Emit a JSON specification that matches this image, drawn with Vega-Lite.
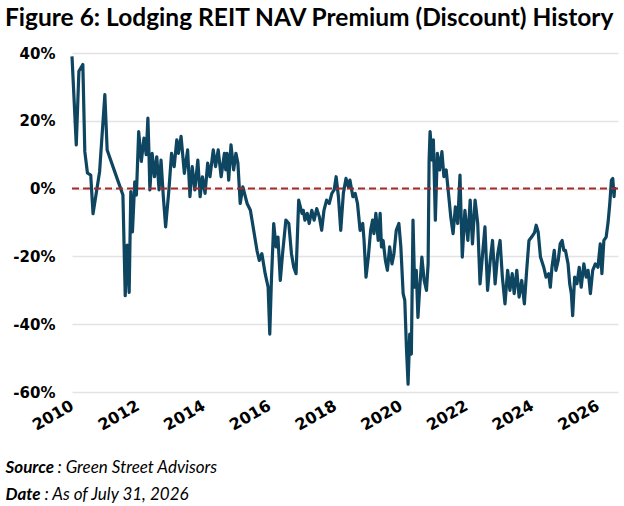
{
  "$schema": "https://vega.github.io/schema/vega-lite/v6.json",
  "width": 546,
  "height": 339,
  "autosize": {"type": "none"},
  "padding": {"left": 72, "top": 53, "right": 6, "bottom": 114},
  "background": "white",
  "config": {"view": {"stroke": null}},
  "title": {
    "text": "Figure 6: Lodging REIT NAV Premium (Discount) History",
    "anchor": "start",
    "frame": "group",
    "dx": -67,
    "font": "Lato",
    "fontSize": 24.5,
    "fontWeight": "bold",
    "color": "#000000",
    "offset": 15
  },
  "resolve": {"axis": {"x": "independent"}},
  "layer": [
    {
      "data": {"values": [
        {"t": 2010.00, "v": 39}, {"t": 2010.13, "v": 12.9}, {"t": 2010.21, "v": 34.6}, {"t": 2010.33, "v": 36.6},
        {"t": 2010.39, "v": 10.9}, {"t": 2010.47, "v": 4.6}, {"t": 2010.57, "v": 4}, {"t": 2010.64, "v": -7.4},
        {"t": 2010.84, "v": 5}, {"t": 2011.00, "v": 27.7}, {"t": 2011.07, "v": 11.4}, {"t": 2011.30, "v": 5},
        {"t": 2011.55, "v": -1.9}, {"t": 2011.62, "v": -31.6}, {"t": 2011.68, "v": -16.7}, {"t": 2011.74, "v": -30.6},
        {"t": 2011.79, "v": -0.9}, {"t": 2011.84, "v": -12.8}, {"t": 2011.91, "v": 2}, {"t": 2011.96, "v": -1.9},
        {"t": 2012.03, "v": 16.8}, {"t": 2012.11, "v": 8}, {"t": 2012.19, "v": 14.9}, {"t": 2012.26, "v": 10},
        {"t": 2012.31, "v": 20.8}, {"t": 2012.34, "v": 11.4}, {"t": 2012.37, "v": -0.4}, {"t": 2012.44, "v": 10.4},
        {"t": 2012.51, "v": 3.5}, {"t": 2012.58, "v": 9.4}, {"t": 2012.65, "v": -0.4}, {"t": 2012.71, "v": 8.4},
        {"t": 2012.78, "v": -2.4}, {"t": 2012.85, "v": -11.3}, {"t": 2012.95, "v": -0.4}, {"t": 2013.03, "v": 10.4},
        {"t": 2013.11, "v": 6.5}, {"t": 2013.19, "v": 14.4}, {"t": 2013.24, "v": 10.4}, {"t": 2013.32, "v": 15.4},
        {"t": 2013.42, "v": 4.5}, {"t": 2013.52, "v": 11.4}, {"t": 2013.59, "v": -2.4}, {"t": 2013.66, "v": 6.5},
        {"t": 2013.74, "v": -0.4}, {"t": 2013.83, "v": 8.4}, {"t": 2013.90, "v": -2.4}, {"t": 2013.97, "v": 3.5},
        {"t": 2014.05, "v": -1.4}, {"t": 2014.13, "v": 7.5}, {"t": 2014.20, "v": 3.5}, {"t": 2014.30, "v": 11.4},
        {"t": 2014.37, "v": 6.5}, {"t": 2014.45, "v": 11.4}, {"t": 2014.54, "v": 3.5}, {"t": 2014.64, "v": 10.4},
        {"t": 2014.68, "v": 5.5}, {"t": 2014.72, "v": 10.4}, {"t": 2014.77, "v": 2.5}, {"t": 2014.84, "v": 12.9},
        {"t": 2014.92, "v": 5.5}, {"t": 2014.99, "v": 10.4}, {"t": 2015.05, "v": 7.5}, {"t": 2015.12, "v": -4.4},
        {"t": 2015.20, "v": 0.5}, {"t": 2015.33, "v": -4.4}, {"t": 2015.43, "v": -6.4}, {"t": 2015.53, "v": -12.3},
        {"t": 2015.63, "v": -18.2}, {"t": 2015.70, "v": -21.2}, {"t": 2015.78, "v": -19.2}, {"t": 2015.88, "v": -25.1},
        {"t": 2015.97, "v": -29.1}, {"t": 2016.02, "v": -42.9}, {"t": 2016.07, "v": -27.1}, {"t": 2016.14, "v": -10.3},
        {"t": 2016.21, "v": -17.2}, {"t": 2016.27, "v": -14.3}, {"t": 2016.34, "v": -27.1}, {"t": 2016.41, "v": -19.2},
        {"t": 2016.51, "v": -9.3}, {"t": 2016.60, "v": -10.3}, {"t": 2016.68, "v": -19.2}, {"t": 2016.75, "v": -23.2},
        {"t": 2016.82, "v": -25.1}, {"t": 2016.90, "v": -3.4}, {"t": 2017.00, "v": -7.3}, {"t": 2017.04, "v": -6.4},
        {"t": 2017.09, "v": -9.3}, {"t": 2017.16, "v": -7.3}, {"t": 2017.22, "v": -10.3}, {"t": 2017.30, "v": -6.4},
        {"t": 2017.37, "v": -9.3}, {"t": 2017.45, "v": -5.9}, {"t": 2017.53, "v": -8.4}, {"t": 2017.60, "v": -12.3},
        {"t": 2017.67, "v": -6.4}, {"t": 2017.75, "v": -3.4}, {"t": 2017.83, "v": -4.4}, {"t": 2017.91, "v": -1.4},
        {"t": 2017.98, "v": -0.4}, {"t": 2018.04, "v": 3.5}, {"t": 2018.11, "v": -2.4}, {"t": 2018.18, "v": -12.3},
        {"t": 2018.26, "v": -1.4}, {"t": 2018.34, "v": 3}, {"t": 2018.41, "v": 0.5}, {"t": 2018.46, "v": 2.5},
        {"t": 2018.55, "v": -2.4}, {"t": 2018.62, "v": -1.4}, {"t": 2018.69, "v": -4.4}, {"t": 2018.77, "v": -12.3},
        {"t": 2018.85, "v": -10.3}, {"t": 2018.89, "v": -15.3}, {"t": 2018.95, "v": -26.1}, {"t": 2019.02, "v": -20.2},
        {"t": 2019.09, "v": -12.3}, {"t": 2019.15, "v": -9.3}, {"t": 2019.19, "v": -13.3}, {"t": 2019.25, "v": -7.3},
        {"t": 2019.32, "v": -15.3}, {"t": 2019.38, "v": -7.3}, {"t": 2019.42, "v": -17.2}, {"t": 2019.47, "v": -15.3},
        {"t": 2019.54, "v": -21.2}, {"t": 2019.60, "v": -24.1}, {"t": 2019.67, "v": -17.2}, {"t": 2019.74, "v": -22.2},
        {"t": 2019.80, "v": -19.2}, {"t": 2019.87, "v": -12.3}, {"t": 2019.95, "v": -10.3}, {"t": 2020.01, "v": -17.2},
        {"t": 2020.08, "v": -31}, {"t": 2020.13, "v": -33}, {"t": 2020.18, "v": -46.9}, {"t": 2020.23, "v": -57.7},
        {"t": 2020.28, "v": -42.9}, {"t": 2020.33, "v": -48.8}, {"t": 2020.38, "v": -9.3}, {"t": 2020.43, "v": -29.1},
        {"t": 2020.48, "v": -24.1}, {"t": 2020.53, "v": -38}, {"t": 2020.58, "v": -30}, {"t": 2020.65, "v": -20.2},
        {"t": 2020.72, "v": -27.1}, {"t": 2020.79, "v": -30}, {"t": 2020.84, "v": -22.2}, {"t": 2020.87, "v": 8.4},
        {"t": 2020.90, "v": 16.8}, {"t": 2020.96, "v": 8.4}, {"t": 2021.00, "v": 14.4}, {"t": 2021.06, "v": -9.3},
        {"t": 2021.12, "v": 10.4}, {"t": 2021.19, "v": 5.5}, {"t": 2021.26, "v": 10.9}, {"t": 2021.32, "v": 3.5},
        {"t": 2021.39, "v": 5.5}, {"t": 2021.47, "v": -2.4}, {"t": 2021.53, "v": -8.4}, {"t": 2021.60, "v": -13.3},
        {"t": 2021.67, "v": -5.4}, {"t": 2021.74, "v": -10.3}, {"t": 2021.81, "v": 4}, {"t": 2021.88, "v": -20.2},
        {"t": 2021.96, "v": -6.4}, {"t": 2022.05, "v": -15.3}, {"t": 2022.12, "v": -3.4}, {"t": 2022.19, "v": -16.3},
        {"t": 2022.27, "v": -3.4}, {"t": 2022.35, "v": -10.3}, {"t": 2022.42, "v": -28.1}, {"t": 2022.49, "v": -20.2},
        {"t": 2022.57, "v": -11.3}, {"t": 2022.65, "v": -30}, {"t": 2022.73, "v": -21.2}, {"t": 2022.80, "v": -15.3},
        {"t": 2022.88, "v": -28.1}, {"t": 2022.96, "v": -19.2}, {"t": 2023.03, "v": -15.3}, {"t": 2023.10, "v": -26.1},
        {"t": 2023.18, "v": -34}, {"t": 2023.26, "v": -24.1}, {"t": 2023.33, "v": -30}, {"t": 2023.40, "v": -25.1},
        {"t": 2023.46, "v": -31}, {"t": 2023.54, "v": -24.1}, {"t": 2023.61, "v": -32}, {"t": 2023.69, "v": -27.1},
        {"t": 2023.77, "v": -34}, {"t": 2023.84, "v": -24.1}, {"t": 2023.91, "v": -15.3}, {"t": 2023.99, "v": -14.3},
        {"t": 2024.08, "v": -13}, {"t": 2024.13, "v": -10.8}, {"t": 2024.19, "v": -12.8}, {"t": 2024.26, "v": -20.2},
        {"t": 2024.36, "v": -23.2}, {"t": 2024.43, "v": -26.1}, {"t": 2024.51, "v": -25.1}, {"t": 2024.56, "v": -29.1},
        {"t": 2024.61, "v": -23.2}, {"t": 2024.68, "v": -18.2}, {"t": 2024.73, "v": -24.1}, {"t": 2024.80, "v": -21.2},
        {"t": 2024.86, "v": -16.3}, {"t": 2024.92, "v": -15.3}, {"t": 2024.97, "v": -18.2}, {"t": 2025.02, "v": -18.2},
        {"t": 2025.10, "v": -22.2}, {"t": 2025.15, "v": -28.1}, {"t": 2025.20, "v": -31}, {"t": 2025.24, "v": -37.5},
        {"t": 2025.30, "v": -26.1}, {"t": 2025.37, "v": -28.1}, {"t": 2025.44, "v": -23.2}, {"t": 2025.50, "v": -29.1},
        {"t": 2025.58, "v": -22.2}, {"t": 2025.65, "v": -26.1}, {"t": 2025.71, "v": -24.1}, {"t": 2025.78, "v": -31},
        {"t": 2025.85, "v": -24.1}, {"t": 2025.93, "v": -22.2}, {"t": 2026.01, "v": -23.2}, {"t": 2026.08, "v": -16.3},
        {"t": 2026.13, "v": -25.1}, {"t": 2026.19, "v": -15.3}, {"t": 2026.26, "v": -14.3}, {"t": 2026.32, "v": -9.8},
        {"t": 2026.37, "v": -4.4}, {"t": 2026.42, "v": 2.5}, {"t": 2026.46, "v": 3}, {"t": 2026.50, "v": -2.4},
        {"t": 2026.52, "v": 0.5}
      ]},
      "mark": {"type": "line", "color": "#0E4560", "strokeWidth": 3.2, "strokeJoin": "round"},
      "encoding": {
        "x": {
          "field": "t", "type": "quantitative",
          "scale": {"domain": [2010, 2026.62], "nice": false, "zero": false},
          "axis": {
            "orient": "bottom",
            "values": [2010, 2012, 2014, 2016, 2018, 2020, 2022, 2024, 2026],
            "format": "d",
            "labelAngle": -30, "labelAlign": "right", "labelBaseline": "middle",
            "labelFont": "DejaVu Sans", "labelFontWeight": "bold", "labelFontSize": 16, "labelColor": "#000000",
            "labelPadding": 12, "ticks": false, "tickSize": 0, "domain": false, "grid": false,
            "title": ": Green Street Advisors",
            "titleFont": "Lato", "titleFontSize": 17, "titleFontStyle": "italic", "titleFontWeight": "normal",
            "titleColor": "#000000", "titleAlign": "left", "titleBaseline": "alphabetic", "titleAngle": 0,
            "titleX": -15, "titleY": 80
          }
        },
        "y": {
          "field": "v", "type": "quantitative",
          "scale": {"domain": [-60, 40], "nice": false},
          "axis": {
            "values": [-60, -40, -20, 0, 20, 40],
            "labelExpr": "datum.value + '%'",
            "labelFont": "DejaVu Sans", "labelFontWeight": "bold", "labelFontSize": 15, "labelColor": "#000000",
            "labelPadding": 17, "ticks": false, "tickSize": 0, "domain": false,
            "grid": true, "gridColor": "#e3e3e3", "gridWidth": 1.5,
            "title": ["Source", "Date"],
            "titleFont": "Lato", "titleFontSize": 17, "titleFontStyle": "italic", "titleFontWeight": "bold",
            "titleColor": "#000000", "titleAlign": "left", "titleBaseline": "alphabetic", "titleAngle": 0,
            "titleX": -67, "titleY": 419, "titleLineHeight": 27
          }
        }
      }
    },
    {
      "data": {"values": [{"start": 2010, "end": 2026.62, "v": 0}]},
      "mark": {"type": "rule", "color": "#A52A2A", "strokeDash": [7, 4], "strokeWidth": 2},
      "encoding": {
        "x": {
          "field": "start", "type": "quantitative",
          "scale": {"domain": [2010, 2026.62], "nice": false, "zero": false},
          "axis": {
            "orient": "bottom",
            "labels": false, "ticks": false, "domain": false, "grid": false,
            "title": ": As of July 31, 2026",
            "titleFont": "Lato", "titleFontSize": 17, "titleFontStyle": "italic", "titleFontWeight": "normal",
            "titleColor": "#000000", "titleAlign": "left", "titleBaseline": "alphabetic", "titleAngle": 0,
            "titleX": -28, "titleY": 107
          }
        },
        "x2": {"field": "end"},
        "y": {"field": "v", "type": "quantitative"}
      }
    }
  ]
}
